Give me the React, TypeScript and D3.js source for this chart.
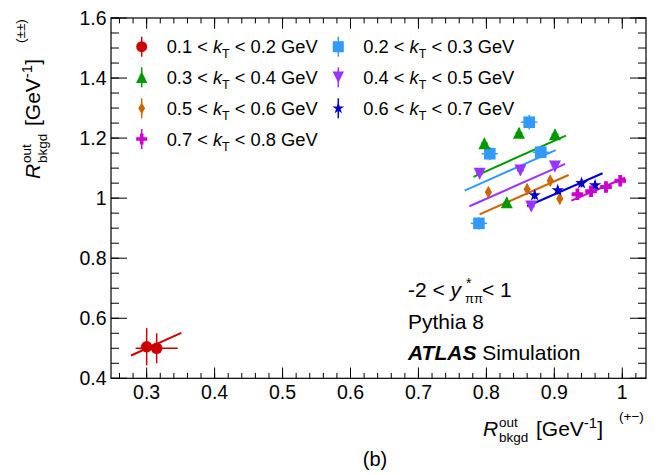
import React from 'react';
import * as d3 from 'd3';

const W = 669;
const H = 475;

// axes
const xDomain = [0.2475, 1.0349];
const yDomain = [0.4, 1.6];
const xMajorTicks = [0.3, 0.4, 0.5, 0.6, 0.7, 0.8, 0.9, 1.0];
const xTickLabels = ['0.3', '0.4', '0.5', '0.6', '0.7', '0.8', '0.9', '1'];
const yMajorTicks = [0.4, 0.6, 0.8, 1.0, 1.2, 1.4, 1.6];
const yTickLabels = ['0.4', '0.6', '0.8', '1', '1.2', '1.4', '1.6'];

// series (kT bins)
const kTLow = ['0.1', '0.2', '0.3', '0.4', '0.5', '0.6', '0.7'];
const kTHigh = ['0.2', '0.3', '0.4', '0.5', '0.6', '0.7', '0.8'];
const seriesColors = ['#cc0000', '#3399ff', '#009900', '#9933ff', '#cc6600', '#0000cc', '#cc00cc'];
const seriesMarkers = ['circle', 'square', 'triangleUp', 'triangleDown', 'diamond', 'star', 'cross'];
const seriesX = [
  [0.3, 0.3147],
  [0.789, 0.805, 0.863, 0.880],
  [0.797, 0.830, 0.848, 0.901],
  [0.790, 0.850, 0.866, 0.901],
  [0.803, 0.860, 0.894, 0.908],
  [0.871, 0.905, 0.940, 0.960],
  [0.934, 0.954, 0.976, 0.997],
];
const seriesY = [
  [0.505, 0.500],
  [0.916, 1.148, 1.253, 1.153],
  [1.183, 0.986, 1.218, 1.213],
  [1.081, 1.092, 0.972, 1.105],
  [1.020, 1.030, 1.058, 0.998],
  [1.010, 1.026, 1.050, 1.043],
  [1.013, 1.023, 1.037, 1.058],
];
const seriesXErr = [
  [0.004, 0.031],
  [0.012, 0.012, 0.012, 0.012],
  [0.005, 0.005, 0.005, 0.005],
  [0.005, 0.005, 0.005, 0.005],
  [0.004, 0.004, 0.004, 0.004],
  [0.004, 0.004, 0.004, 0.004],
  [0.006, 0.006, 0.006, 0.006],
];
const seriesYErr = [
  [0.062, 0.05],
  [0.02, 0.022, 0.024, 0.02],
  [0.016, 0.016, 0.016, 0.016],
  [0.016, 0.016, 0.016, 0.016],
  [0.018, 0.018, 0.018, 0.018],
  [0.014, 0.014, 0.014, 0.014],
  [0.014, 0.014, 0.014, 0.014],
];
// straight-line fits: endpoints in data units
const fitX = [
  [0.277, 0.351],
  [0.768, 0.902],
  [0.781, 0.917],
  [0.775, 0.916],
  [0.790, 0.921],
  [0.860, 0.971],
  [0.925, 1.004],
];
const fitY = [
  [0.476, 0.551],
  [1.025, 1.160],
  [1.071, 1.208],
  [0.973, 1.114],
  [0.946, 1.077],
  [0.973, 1.083],
  [0.992, 1.068],
];

const FONT = '"Liberation Sans", Arial, Helvetica, sans-serif';

const left = 111;
const right = 646;
const top = 18;
const bottom = 378.3;

const x = d3.scaleLinear().domain(xDomain).range([left, right]);
const y = d3.scaleLinear().domain(yDomain).range([bottom, top]);

function Marker({ type, cx, cy, color, s = 1 }: { type: string; cx: number; cy: number; color: string; s?: number }) {
  const t = `translate(${cx},${cy})`;
  if (type === 'circle') return <circle cx={cx} cy={cy} r={5.8 * s} fill={color} />;
  if (type === 'square') {
    const h = 5.8 * s;
    return <rect x={cx - h} y={cy - h} width={2 * h} height={2 * h} fill={color} />;
  }
  if (type === 'triangleUp') {
    const w = 6 * s, hh = 6 * s;
    return <path transform={t} d={`M0,${-hh}L${w},${hh}L${-w},${hh}Z`} fill={color} />;
  }
  if (type === 'triangleDown') {
    const w = 6 * s, hh = 6 * s;
    return <path transform={t} d={`M0,${hh}L${w},${-hh}L${-w},${-hh}Z`} fill={color} />;
  }
  if (type === 'diamond') {
    const w = 3.6 * s, hh = 6.2 * s;
    return <path transform={t} d={`M0,${-hh}L${w},0L0,${hh}L${-w},0Z`} fill={color} />;
  }
  if (type === 'star') {
    const p = d3.symbol().type(d3.symbolStar).size(48 * s * s)();
    return <path transform={t} d={p || ''} fill={color} />;
  }
  const p = d3.symbol().type(d3.symbolCross).size(75 * s * s)();
  return <path transform={t} d={p || ''} fill={color} />;
}

// axis title "R^out_bkgd [GeV^-1]" drawn at origin (baseline of R)
function AxisTitle({ suffix }: { suffix: string }) {
  return (
    <g>
      <text x={0} y={0} fontSize={21} fontStyle="italic">R</text>
      <text x={16} y={-9} fontSize={13.5}>out</text>
      <text x={16} y={6.5} fontSize={13.5}>bkgd</text>
      <text x={53} y={0} fontSize={21}>
        [GeV<tspan fontSize={15} dy={-8}>-1</tspan><tspan dy={8}>]</tspan>
      </text>
      <text x={136} y={-15} fontSize={13.5}>{suffix}</text>
    </g>
  );
}

export default function App() {
  const xMinor = d3.range(0.26, 1.035, 0.02).map((v) => Math.round(v * 100) / 100);
  const yMinor = d3.range(0.4, 1.6001, 0.05).map((v) => Math.round(v * 100) / 100);
  const xMaj = 10.8, xMin = 5.4, yMaj = 16, yMin = 8;

  const legendRows = [46.7, 77.3, 108.3, 139];
  const legendCols = [141.7, 338.3];

  return (
    <svg width={W} height={H} style={{ position: 'absolute', left: 0, top: 0, background: '#fff' }} fontFamily={FONT}>
      <rect width={W} height={H} fill="#fff" />
      {/* ticks */}
      <g stroke="#000" strokeWidth={1}>
        {xMinor.map((v, i) => (
          <g key={'xm' + i}>
            <line x1={x(v)} x2={x(v)} y1={bottom} y2={bottom - xMin} />
            <line x1={x(v)} x2={x(v)} y1={top} y2={top + xMin} />
          </g>
        ))}
        {xMajorTicks.map((v, i) => (
          <g key={'xM' + i}>
            <line x1={x(v)} x2={x(v)} y1={bottom} y2={bottom - xMaj} />
            <line x1={x(v)} x2={x(v)} y1={top} y2={top + xMaj} />
          </g>
        ))}
        {yMinor.map((v, i) => (
          <g key={'ym' + i}>
            <line x1={left} x2={left + yMin} y1={y(v)} y2={y(v)} />
            <line x1={right} x2={right - yMin} y1={y(v)} y2={y(v)} />
          </g>
        ))}
        {yMajorTicks.map((v, i) => (
          <g key={'yM' + i}>
            <line x1={left} x2={left + yMaj} y1={y(v)} y2={y(v)} />
            <line x1={right} x2={right - yMaj} y1={y(v)} y2={y(v)} />
          </g>
        ))}
      </g>
      <rect x={left} y={top} width={right - left} height={bottom - top} fill="none" stroke="#000" strokeWidth={1.2} />

      {/* tick labels */}
      <g fontSize={19.5} fill="#000">
        {xMajorTicks.map((v, i) => (
          <text key={'xl' + i} x={x(v)} y={398.5} textAnchor="middle">{xTickLabels[i]}</text>
        ))}
        {yMajorTicks.map((v, i) => (
          <text key={'yl' + i} x={106.5} y={y(v) + 7} textAnchor="end">{yTickLabels[i]}</text>
        ))}
      </g>

      {/* fit lines */}
      {fitX.map((fx, i) => (
        <line key={'fit' + i} x1={x(fx[0])} x2={x(fx[1])} y1={y(fitY[i][0])} y2={y(fitY[i][1])}
          stroke={seriesColors[i]} strokeWidth={2} />
      ))}

      {/* data points */}
      {seriesX.map((xs, si) => (
        <g key={'s' + si}>
          {xs.map((xv, pi) => {
            const yv = seriesY[si][pi];
            const ex = seriesXErr[si][pi];
            const ey = seriesYErr[si][pi];
            return (
              <g key={pi} stroke={seriesColors[si]} strokeWidth={1.5}>
                <line x1={x(xv - ex)} x2={x(xv + ex)} y1={y(yv)} y2={y(yv)} />
                <line x1={x(xv)} x2={x(xv)} y1={y(yv - ey)} y2={y(yv + ey)} />
              </g>
            );
          })}
          {xs.map((xv, pi) => (
            <Marker key={'m' + pi} type={seriesMarkers[si]} cx={x(xv)} cy={y(seriesY[si][pi])} color={seriesColors[si]} />
          ))}
        </g>
      ))}

      {/* legend */}
      {kTLow.map((lo, i) => {
        const col = i % 2;
        const row = Math.floor(i / 2);
        const mx = legendCols[col];
        const my = legendRows[row];
        const tx = mx + 25;
        return (
          <g key={'lg' + i}>
            <line x1={mx} x2={mx} y1={my - 10} y2={my + 10} stroke={seriesColors[i]} strokeWidth={1.5} />
            <Marker type={seriesMarkers[i]} cx={mx} cy={my} color={seriesColors[i]} s={0.95} />
            <text x={tx} y={my + 6.6} fontSize={18.3}>
              {lo} &lt; <tspan fontStyle="italic">k</tspan>
              <tspan fontSize={12.5} dy={5}>T</tspan>
              <tspan dy={-5}> &lt; {kTHigh[i]} GeV</tspan>
            </text>
          </g>
        );
      })}

      {/* annotations */}
      <g fontSize={21}>
        <text x={408} y={297}>
          -2 &lt; <tspan fontStyle="italic">y</tspan>
        </text>
        <text x={466} y={288} fontSize={14}>*</text>
        <text x={465} y={303} fontSize={13}>ππ</text>
        <text x={482} y={297}>&lt; 1</text>
        <text x={408} y={329}>Pythia 8</text>
        <text x={408} y={360}>
          <tspan fontWeight="bold" fontStyle="italic">ATLAS</tspan> Simulation
        </text>
      </g>

      {/* x axis title */}
      <g transform="translate(483,435.5)">
        <AxisTitle suffix="(+−)" />
      </g>

      {/* y axis title */}
      <g transform="translate(40,179) rotate(-90)">
        <AxisTitle suffix="(±±)" />
      </g>

      <text x={375} y={466} fontSize={20} textAnchor="middle">(b)</text>
    </svg>
  );
}
